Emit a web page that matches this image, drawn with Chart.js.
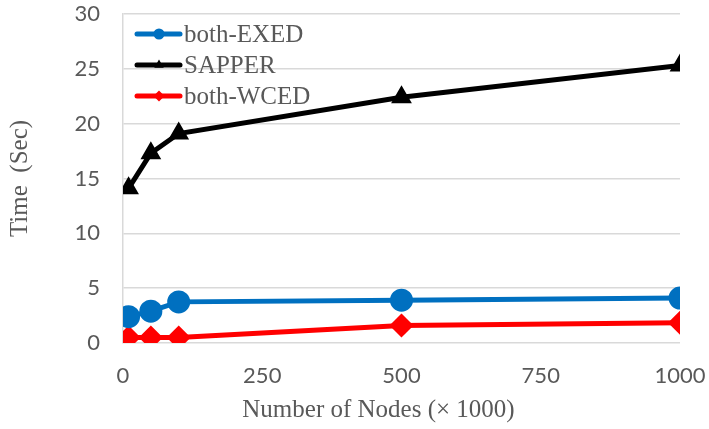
<!DOCTYPE html>
<html>
<head>
<meta charset="utf-8">
<script src="https://cdn.jsdelivr.net/npm/chart.js@4"></script>
<style>
  html, body { margin: 0; padding: 0; background: #fff; }
  #wrap { width: 709px; height: 429px; }
</style>
</head>
<body>
<div id="wrap"><canvas id="c"></canvas></div>
<script>
// Runtime vs. graph size
const NODES  = [10, 50, 100, 500, 1000];
const EXED   = [2.4, 2.9, 3.75, 3.9, 4.1];
const SAPPER = [14.1, 17.3, 19.1, 22.4, 25.3];
const WCED   = [0.5, 0.5, 0.5, 1.6, 1.85];

const X_TITLE = 'Number of Nodes (× 1000)';
const Y_TITLE = 'Time  (Sec)';

const SERIF = '"Liberation Serif", "Times New Roman", serif';
const SANS  = 'Lato, "Open Sans", sans-serif';
const GRAY  = '#595959';
const CLEAR = 'rgba(0,0,0,0)';

function pts(vals) { return NODES.map((x, i) => ({ x, y: vals[i] })); }

function series(label, vals, color, style, r) {
  return {
    label, data: pts(vals),
    borderColor: color, backgroundColor: color,
    pointStyle: style, pointRadius: r, pointHoverRadius: r,
    borderWidth: 5, tension: 0
  };
}

// legend drawn inside the plot, line sample with marker in the middle
const insideLegend = {
  id: 'insideLegend',
  afterDraw(chart) {
    const { ctx, chartArea } = chart;
    const x0 = chartArea.left + 12, y0 = chartArea.top + 20;
    ctx.save();
    chart.data.datasets.forEach((ds, i) => {
      const y = y0 + i * 31;
      ctx.strokeStyle = ds.borderColor;
      ctx.lineWidth = 5;
      ctx.lineCap = 'round';
      ctx.beginPath();
      ctx.moveTo(x0 + 2, y);
      ctx.lineTo(x0 + 45, y);
      ctx.stroke();
      ctx.fillStyle = ds.backgroundColor;
      Chart.helpers.drawPoint(ctx, { pointStyle: ds.pointStyle, radius: 5.5, borderWidth: 0 }, x0 + 24, y);
      ctx.fillStyle = GRAY;
      ctx.font = '25px ' + SERIF;
      ctx.textBaseline = 'middle';
      ctx.fillText(ds.label, x0 + 49, y + 1);
    });
    ctx.restore();
  }
};

// x title centred under the whole figure rather than the plot area
const xTitle = {
  id: 'xTitle',
  afterDraw(chart) {
    const { ctx, width, height } = chart;
    ctx.save();
    ctx.fillStyle = GRAY;
    ctx.font = '25px ' + SERIF;
    ctx.textAlign = 'center';
    ctx.textBaseline = 'middle';
    ctx.fillText(X_TITLE, width / 2 + 24, height - 19);
    ctx.restore();
  }
};

new Chart(document.getElementById('c'), {
  type: 'line',
  data: {
    datasets: [
      series('both-EXED', EXED, '#0070c0', 'circle', 9),
      series('SAPPER', SAPPER, '#000000', 'triangle', 7),
      series('both-WCED', WCED, '#ff0000', 'rectRot', 8.5)
    ]
  },
  options: {
    responsive: true,
    maintainAspectRatio: false,
    animation: false,
    layout: { padding: { left: 0, right: 29, top: 0, bottom: 0 } },
    plugins: { legend: { display: false }, tooltip: { enabled: false } },
    scales: {
      x: {
        type: 'linear', min: 0, max: 1000,
        afterFit: s => { s.height = 86; },
        // invisible tick marks give the gap between axis and labels
        grid: { display: true, drawOnChartArea: false, drawTicks: true, tickLength: 20, tickColor: CLEAR },
        border: { display: false },
        ticks: { stepSize: 250, padding: 0, color: GRAY, font: { family: SANS, size: 22 },
                 callback: v => String(v) },
        title: { display: false }
      },
      y: {
        min: 0, max: 30,
        afterFit: s => { s.width = 123; },
        grid: { color: '#d9d9d9', lineWidth: 1.5, drawTicks: true, tickLength: 23, tickColor: CLEAR },
        border: { display: true, color: '#d9d9d9', width: 1.5 },
        ticks: { stepSize: 5, padding: 0, color: GRAY, font: { family: SANS, size: 22 } },
        title: { display: true, text: Y_TITLE, color: GRAY,
                 padding: { top: 5, bottom: 0 }, font: { family: SERIF, size: 25 } }
      }
    }
  },
  plugins: [insideLegend, xTitle]
});
</script>
</body>
</html>
